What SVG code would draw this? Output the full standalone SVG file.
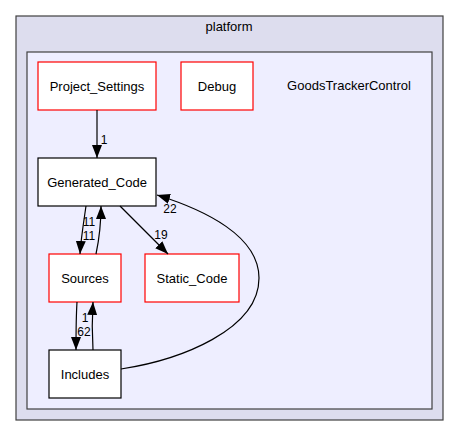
<svg xmlns="http://www.w3.org/2000/svg" width="459" height="436" viewBox="0 0 459 436">
<style>
text{font-family:"Liberation Sans",Arial,sans-serif;font-size:13px;fill:#000;text-anchor:middle}
.lb{font-size:12px}
.cl{stroke:#404040;stroke-width:1.2}
.n{fill:#fff;stroke:#000;stroke-width:1.2}
.r{fill:#fff;stroke:#ff0000;stroke-width:1.2}
.e{fill:none;stroke:#000;stroke-width:1.2}
</style>
<defs>
<marker id="ah" markerUnits="userSpaceOnUse" markerWidth="14" markerHeight="11" refX="13" refY="5" orient="auto">
<path d="M0,0 L13,5 L0,10 z" fill="#000"/>
</marker>
</defs>
<rect width="459" height="436" fill="#fff"/>
<g id="cluster_platform">
<rect class="cl" x="16" y="16" width="427" height="404" fill="#ddddee"/>
<text x="229" y="31">platform</text>
</g>
<g id="cluster_GoodsTrackerControl">
<rect class="cl" x="27" y="52" width="405" height="357" fill="#eeeeff"/>
<text x="349" y="90">GoodsTrackerControl</text>
</g>
<g id="node_Project_Settings">
<rect class="r" x="38" y="62" width="118" height="48"/>
<text x="97" y="90.5">Project_Settings</text>
</g>
<g id="node_Debug">
<rect class="r" x="181" y="62" width="72" height="48"/>
<text x="217" y="90.5">Debug</text>
</g>
<g id="node_Generated_Code">
<rect class="n" x="38" y="158" width="118" height="48"/>
<text x="97" y="186.5">Generated_Code</text>
</g>
<g id="node_Sources">
<rect class="r" x="49" y="254" width="72" height="48"/>
<text x="85" y="282.5">Sources</text>
</g>
<g id="node_Static_Code">
<rect class="r" x="145" y="254" width="94" height="48"/>
<text x="192" y="282.5">Static_Code</text>
</g>
<g id="node_Includes">
<rect class="n" x="49" y="350" width="72" height="48"/>
<text x="85" y="378.5">Includes</text>
</g>
<g id="connectors">
<path class="e" d="M97,110 L97,158" marker-end="url(#ah)"/>
<text class="lb" x="104" y="144">1</text>
<path class="e" d="M86,206 C84,220 81,238 80,254" marker-end="url(#ah)"/>
<path class="e" d="M96,254 C99,240 101,222 101,206" marker-end="url(#ah)"/>
<text class="lb" x="89" y="226">11</text>
<text class="lb" x="89" y="240">11</text>
<path class="e" d="M120,206 L168,254" marker-end="url(#ah)"/>
<text class="lb" x="161" y="239">19</text>
<path class="e" d="M77,302 C76,318 76,334 76,350" marker-end="url(#ah)"/>
<path class="e" d="M93,350 C92,334 92,318 93,302" marker-end="url(#ah)"/>
<text class="lb" x="85" y="322">1</text>
<text class="lb" x="84" y="336">62</text>
<path class="e" d="M121,369 C180,360 259,330 259,278 C259,236 205,210 157,195" marker-end="url(#ah)"/>
<text class="lb" x="170" y="213">22</text>
</g>
</svg>
